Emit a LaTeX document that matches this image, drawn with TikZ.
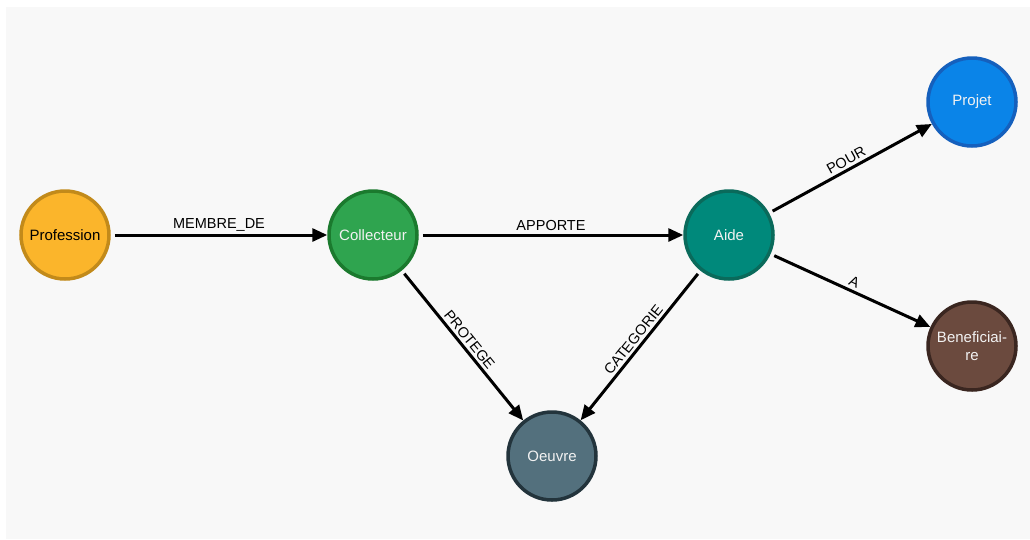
\documentclass[tikz,border=0pt]{standalone}
\usepackage{fontspec}
\setmainfont{Liberation Sans}
\usetikzlibrary{arrows.meta}
\definecolor{bggray}{HTML}{F8F8F8}
\definecolor{profFill}{HTML}{FBB52B}
\definecolor{profLine}{HTML}{C28A1A}
\definecolor{collFill}{HTML}{2FA44F}
\definecolor{collLine}{HTML}{1B7A2E}
\definecolor{aideFill}{HTML}{00897B}
\definecolor{aideLine}{HTML}{0A6A5B}
\definecolor{projFill}{HTML}{0A84E8}
\definecolor{projLine}{HTML}{1560BD}
\definecolor{benFill}{HTML}{6B4A3E}
\definecolor{benLine}{HTML}{3A2620}
\definecolor{oeuFill}{HTML}{53707D}
\definecolor{oeuLine}{HTML}{23343C}
\definecolor{lightText}{HTML}{F2F2F2}
\tikzset{
  ent/.style={circle, minimum size=88pt, inner sep=0pt, line width=3.5pt, font=\fontsize{15}{18}\selectfont, align=center},
  rel/.style={line width=3pt, -{Triangle[length=15pt,width=13pt]}, shorten <=4pt},
  lab/.style={font=\fontsize{14.5}{17}\selectfont, text=black, inner sep=2.5pt}
}
\begin{document}
\begin{tikzpicture}[x=1pt,y=-1pt]
\useasboundingbox (0,0) rectangle (1030,539);
\fill[white] (0,0) rectangle (1030,539);
\fill[bggray] (6,7) rectangle (1030,539);

\node[ent, fill=profFill, draw=profLine, text=black] (prof) at (65,235) {Profession};
\node[ent, fill=collFill, draw=collLine, text=lightText] (coll) at (373,235) {Collecteur};
\node[ent, fill=aideFill, draw=aideLine, text=lightText] (aide) at (729,235) {Aide};
\node[ent, fill=projFill, draw=projLine, text=lightText] (proj) at (972,102) {Projet};
\node[ent, fill=benFill, draw=benLine, text=lightText] (ben) at (972,346) {Beneficiai-\\re};
\node[ent, fill=oeuFill, draw=oeuLine, text=lightText] (oeu) at (552,456) {Oeuvre};

\draw[rel] (prof) -- node[lab, above] {MEMBRE\_DE} (coll);
\draw[rel] (coll) -- node[lab, above] {APPORTE} (aide);
\draw[rel] (coll) -- node[lab, above, sloped] {PROTEGE} (oeu);
\draw[rel] (aide) -- node[lab, above, sloped] {CATEGORIE} (oeu);
\draw[rel] (aide) -- node[lab, above, sloped] {POUR} (proj);
\draw[rel] (aide) -- node[lab, above, sloped] {A} (ben);
\end{tikzpicture}
\end{document}
